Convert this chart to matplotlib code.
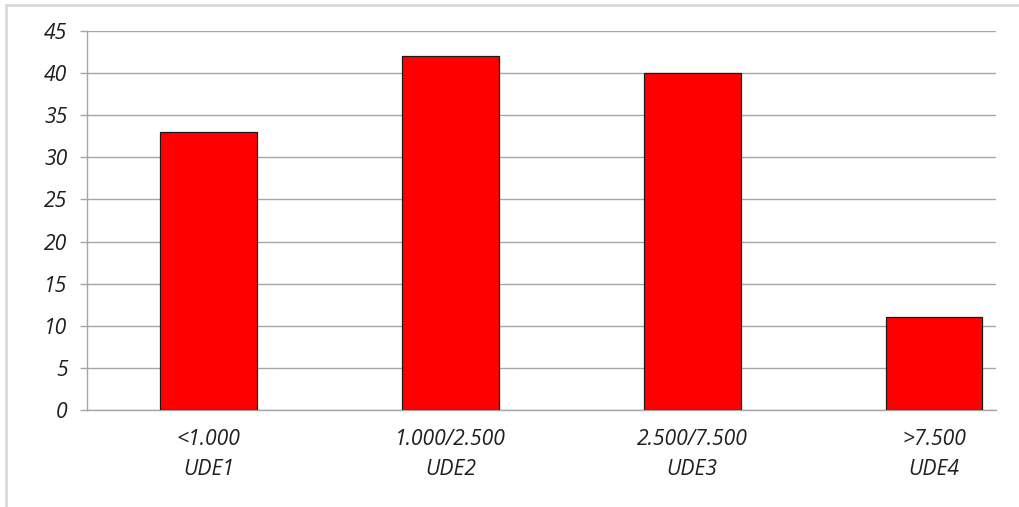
import matplotlib
matplotlib.use("Agg")
import matplotlib.pyplot as plt
from matplotlib.patches import Rectangle

categories = ["<1.000\nUDE1", "1.000/2.500\nUDE2", "2.500/7.500\nUDE3", ">7.500\nUDE4"]
values = [33, 42, 40, 11]
yticks = [0, 5, 10, 15, 20, 25, 30, 35, 40, 45]

fig = plt.figure(figsize=(10.19, 5.07), dpi=100)
fig.patches.append(Rectangle((6/1019, -0.1), 1.2, 1 - 5/507 + 0.1, transform=fig.transFigure,
                             fill=False, edgecolor="#d9d9d9", linewidth=2, zorder=0))
ax = fig.add_axes([87/1019, 1 - 410/507, (996 - 87)/1019, (410 - 31)/507])

x = list(range(len(values)))
ax.bar(x, values, width=0.40, color="#ff0000", edgecolor="#1a1a1a", linewidth=0.9, zorder=3)

ax.set_xlim(-0.5025, 3.256)
ax.set_ylim(0, 45)
ax.set_yticks(yticks)
ax.set_xticks(x)
ax.set_xticklabels(categories, fontfamily="Open Sans", fontstyle="italic", fontsize=15.2,
                   color="#1f1f1f", linespacing=1.55)
ax.set_yticklabels([str(v) for v in yticks], fontfamily="Open Sans", fontstyle="italic",
                   fontsize=15.2, color="#1f1f1f")

ax.grid(axis="y", color="#a6a6a6", linewidth=1, zorder=0)
ax.set_axisbelow(True)
for s in ["top", "right"]:
    ax.spines[s].set_visible(False)
ax.spines["left"].set_color("#a6a6a6")
ax.spines["bottom"].set_color("#a6a6a6")
ax.spines["left"].set_linewidth(1)
ax.spines["bottom"].set_linewidth(1)
ax.tick_params(axis="y", length=5, color="#a6a6a6", width=1, pad=9)
ax.tick_params(axis="x", length=0, pad=14)

fig.savefig("out.png", dpi=100)
